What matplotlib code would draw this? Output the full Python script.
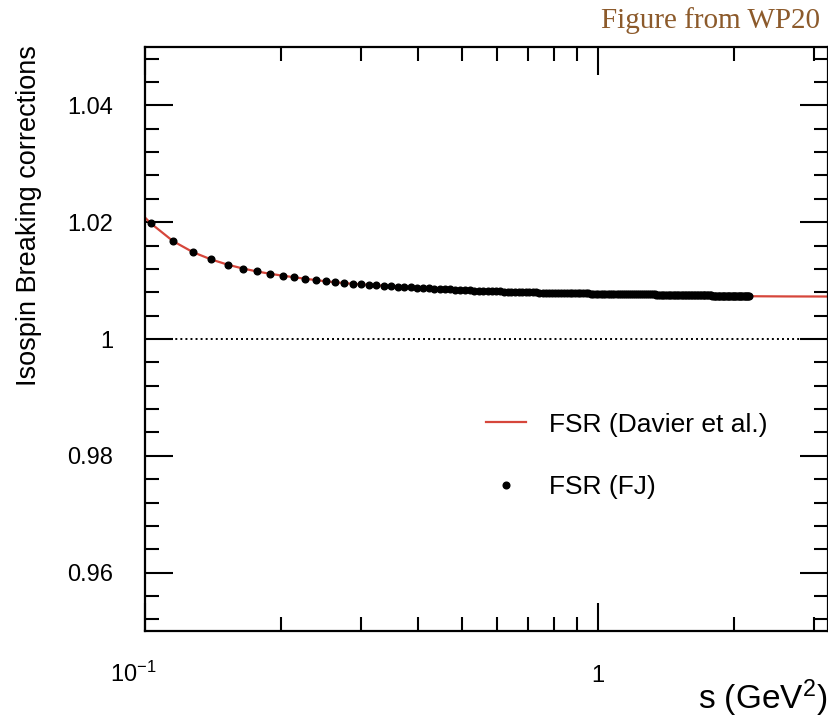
from matplotlib import pyplot as plt
from matplotlib.ticker import FixedLocator, NullFormatter
from matplotlib.transforms import ScaledTranslation

plt.rcParams['font.family'] = ['Liberation Sans', 'DejaVu Sans']
plt.rcParams['mathtext.default'] = 'regular'

# FSR (FJ) points
fj_s = [
    0.1030, 0.1153, 0.1276, 0.1399, 0.1522, 0.1645, 0.1768, 0.1891, 0.2014, 0.2137,
    0.2260, 0.2383, 0.2506, 0.2629, 0.2752, 0.2875, 0.2998, 0.3121, 0.3244, 0.3367,
    0.3490, 0.3613, 0.3736, 0.3859, 0.3982, 0.4105, 0.4228, 0.4351, 0.4474, 0.4597,
    0.4720, 0.4843, 0.4966, 0.5089, 0.5212, 0.5335, 0.5458, 0.5581, 0.5704, 0.5827,
    0.5950, 0.6073, 0.6196, 0.6319, 0.6442, 0.6565, 0.6688, 0.6811, 0.6934, 0.7057,
    0.7180, 0.7303, 0.7426, 0.7549, 0.7672, 0.7795, 0.7918, 0.8041, 0.8164, 0.8287,
    0.8410, 0.8533, 0.8656, 0.8779, 0.8902, 0.9025, 0.9148, 0.9271, 0.9394, 0.9517,
    0.9640, 0.9763, 0.9886, 1.0009, 1.0132, 1.0255, 1.0378, 1.0501, 1.0624, 1.0747,
    1.0870, 1.0993, 1.1116, 1.1239, 1.1362, 1.1485, 1.1608, 1.1731, 1.1854, 1.1977,
    1.2100, 1.2223, 1.2346, 1.2469, 1.2592, 1.2715, 1.2838, 1.2961, 1.3084, 1.3207,
    1.3330, 1.3453, 1.3576, 1.3699, 1.3822, 1.3945, 1.4068, 1.4191, 1.4314, 1.4437,
    1.4560, 1.4683, 1.4806, 1.4929, 1.5052, 1.5175, 1.5298, 1.5421, 1.5544, 1.5667,
    1.5790, 1.5913, 1.6036, 1.6159, 1.6282, 1.6405, 1.6528, 1.6651, 1.6774, 1.6897,
    1.7020, 1.7143, 1.7266, 1.7389, 1.7512, 1.7635, 1.7758, 1.7881, 1.8004, 1.8127,
    1.8250, 1.8373, 1.8496, 1.8619, 1.8742, 1.8865, 1.8988, 1.9111, 1.9234, 1.9357,
    1.9480, 1.9603, 1.9726, 1.9849, 1.9972, 2.0095, 2.0218, 2.0341, 2.0464, 2.0587,
    2.0710, 2.0833, 2.0956, 2.1079, 2.1202, 2.1325, 2.1448, 2.1571,
]
fj_corr = [
    1.01980, 1.01676, 1.01487, 1.01363, 1.01273, 1.01207, 1.01156, 1.01116, 1.01084, 1.01056,
    1.01031, 1.01008, 1.00988, 1.00971, 1.00957, 1.00945, 1.00935, 1.00927, 1.00919, 1.00911,
    1.00904, 1.00897, 1.00891, 1.00885, 1.00879, 1.00873, 1.00867, 1.00862, 1.00857, 1.00854,
    1.00849, 1.00845, 1.00841, 1.00838, 1.00834, 1.00830, 1.00827, 1.00824, 1.00821, 1.00818,
    1.00816, 1.00814, 1.00811, 1.00810, 1.00808, 1.00806, 1.00804, 1.00803, 1.00801, 1.00799,
    1.00798, 1.00797, 1.00795, 1.00794, 1.00793, 1.00792, 1.00791, 1.00790, 1.00789, 1.00788,
    1.00787, 1.00786, 1.00785, 1.00784, 1.00783, 1.00783, 1.00782, 1.00781, 1.00780, 1.00780,
    1.00779, 1.00778, 1.00778, 1.00778, 1.00777, 1.00776, 1.00776, 1.00775, 1.00775, 1.00774,
    1.00773, 1.00773, 1.00772, 1.00772, 1.00771, 1.00770, 1.00770, 1.00769, 1.00769, 1.00768,
    1.00767, 1.00767, 1.00766, 1.00766, 1.00765, 1.00764, 1.00764, 1.00763, 1.00763, 1.00762,
    1.00762, 1.00761, 1.00761, 1.00760, 1.00760, 1.00759, 1.00759, 1.00758, 1.00758, 1.00757,
    1.00757, 1.00756, 1.00756, 1.00755, 1.00755, 1.00754, 1.00754, 1.00753, 1.00753, 1.00752,
    1.00752, 1.00751, 1.00751, 1.00750, 1.00750, 1.00749, 1.00749, 1.00749, 1.00748, 1.00748,
    1.00747, 1.00747, 1.00746, 1.00746, 1.00746, 1.00745, 1.00745, 1.00744, 1.00744, 1.00744,
    1.00743, 1.00743, 1.00743, 1.00742, 1.00742, 1.00741, 1.00741, 1.00741, 1.00740, 1.00740,
    1.00740, 1.00739, 1.00739, 1.00739, 1.00738, 1.00738, 1.00737, 1.00737, 1.00737, 1.00736,
    1.00736, 1.00736, 1.00735, 1.00735, 1.00735, 1.00734, 1.00734, 1.00734,
]

# FSR (Davier et al.) curve
davier_s = [0.100, 0.103, 0.1153, 0.1276, 0.1399, 0.1522, 0.1645, 0.1768, 0.1891, 0.2014,
            0.226, 0.2506, 0.2752, 0.30, 0.35, 0.40, 0.45, 0.50, 0.55, 0.60, 0.70, 0.80,
            0.90, 1.0, 1.2, 1.4, 1.6, 1.8, 2.0, 2.2, 2.6, 3.3]
davier_corr = [1.02080, 1.01980, 1.01676, 1.01487, 1.01363, 1.01273, 1.01207, 1.01156,
               1.01116, 1.01084, 1.01031, 1.00988, 1.00957, 1.00935, 1.00903, 1.00878,
               1.00858, 1.00840, 1.00826, 1.00815, 1.00800, 1.00790, 1.00783, 1.00778,
               1.00768, 1.00759, 1.00751, 1.00744, 1.00738, 1.00732, 1.00729, 1.00727]

ytick_vals = [0.96, 0.98, 1.0, 1.02, 1.04]
ytick_labels = ['0.96', '0.98', '1', '1.02', '1.04']
xtick_vals = [0.1, 1.0]
xtick_labels = ['$10^{-1}$', '1']

fig = plt.figure(figsize=(8.29, 7.2), dpi=100)
ax = fig.add_axes([145 / 829, 1 - 631 / 720, 683 / 829, 584 / 720])

ax.plot(davier_s, davier_corr, color='#d6463b', lw=1.6, label='FSR (Davier et al.)', zorder=2)
ax.plot(fj_s, fj_corr, 'o', color='black', ms=4.8, label='FSR (FJ)', zorder=3)
ax.axhline(1.0, color='black', lw=1.4, ls=(0, (1, 1.6)), zorder=1)

ax.set_xscale('log')
ax.set_xlim(0.1, 3.22)
ax.set_ylim(0.95, 1.05)

ax.xaxis.set_major_locator(FixedLocator(xtick_vals))
ax.xaxis.set_minor_locator(FixedLocator([0.2, 0.3, 0.4, 0.5, 0.6, 0.7, 0.8, 0.9, 2.0, 3.0]))
ax.xaxis.set_minor_formatter(NullFormatter())
ax.set_xticklabels(xtick_labels)
ax.set_yticks(ytick_vals)
ax.set_yticklabels(ytick_labels)
ax.yaxis.set_minor_locator(FixedLocator([0.952 + 0.004 * i for i in range(25)]))

ax.tick_params(which='both', direction='in', top=True, right=True, width=1.5, labelsize=17)
ax.tick_params(which='major', length=20)
ax.tick_params(which='minor', length=10)
ax.tick_params(axis='y', pad=23)
ax.tick_params(axis='x', pad=37)
xlabs = ax.get_xticklabels()
for lab in xlabs:
    lab.set_va('baseline')
# ROOT puts the 10^-1 label a bit left of its tick
xlabs[0].set_transform(xlabs[0].get_transform() + ScaledTranslation(-12 / 100, 0, fig.dpi_scale_trans))
for sp in ax.spines.values():
    sp.set_linewidth(1.6)

ax.legend(loc='center left', bbox_to_anchor=(0.5, 0.30), frameon=False, fontsize=19,
          handlelength=1.5, handletextpad=0.85, labelspacing=1.45, borderpad=0,
          borderaxespad=0, numpoints=1)

fig.text(29 / 829, 1 - 45 / 720, 'Isospin Breaking corrections', rotation=90,
         ha='center', va='top', fontsize=19.5)
fig.text(827 / 829, 1 / 720, 's (GeV$^{2}$)', ha='right', va='bottom', fontsize=24)
fig.text(820 / 829, 1 - 28 / 720, 'Figure from WP20', ha='right', va='baseline',
         fontsize=21, family='Liberation Serif', color='#8c5a2b')

fig.savefig('out.png', dpi=100)
